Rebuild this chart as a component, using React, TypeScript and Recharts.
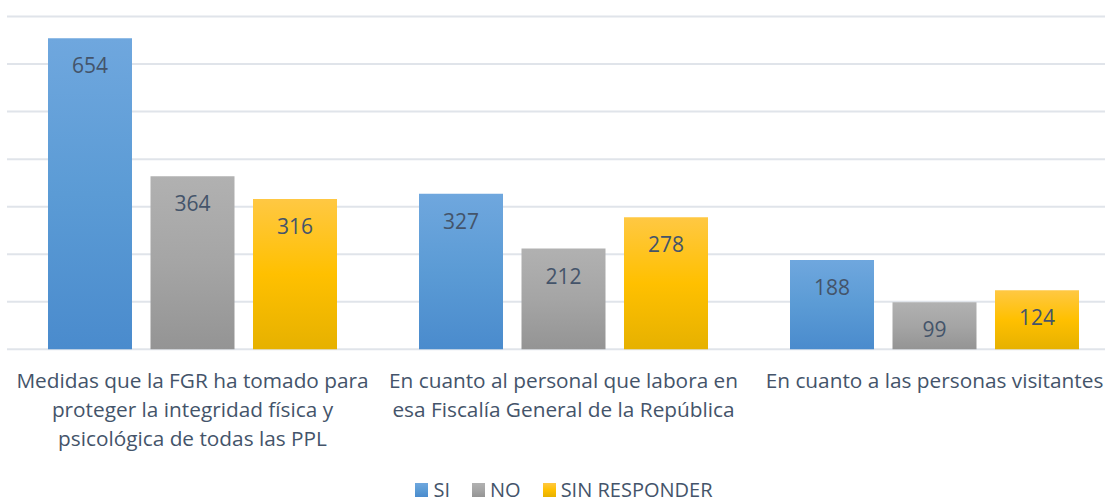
import React from "react";
import { BarChart, Bar, XAxis, YAxis, CartesianGrid, Legend, LabelList } from "recharts";

const categories = [
  "Medidas que la FGR ha tomado para proteger la integridad física y psicológica de todas las PPL",
  "En cuanto al personal que labora en esa Fiscalía General de la República",
  "En cuanto a las personas visitantes",
];
const categoryLines = [
  ["Medidas que la FGR ha tomado para", "proteger la integridad física y", "psicológica de todas las PPL"],
  ["En cuanto al personal que labora en", "esa Fiscalía General de la República"],
  ["En cuanto a las personas visitantes"],
];
const siValues = [654, 327, 188];
const noValues = [364, 212, 99];
const sinResponderValues = [316, 278, 124];
const seriesNames = ["SI", "NO", "SIN RESPONDER"];
const yTicks = [0, 100, 200, 300, 400, 500, 600, 700];

const data = categories.map((c, i) => ({
  name: c,
  idx: i,
  SI: siValues[i],
  NO: noValues[i],
  "SIN RESPONDER": sinResponderValues[i],
}));

const TEXT = "#44546a";
const FONT = "'Open Sans', sans-serif";

const gradients = [
  { id: "gSI", stops: ["#6fa7de", "#5b9bd5", "#4a8bcd"] },
  { id: "gNO", stops: ["#b1b1b1", "#a5a5a5", "#949494"] },
  { id: "gSR", stops: ["#ffc843", "#ffc000", "#e6b100"] },
];

const CategoryTick = (props: any) => {
  const { x, y, payload } = props;
  const lines = categoryLines[payload.index] || [String(payload.value)];
  return (
    <text x={x} y={y} textAnchor="middle" fill={TEXT} fontSize={20.8} fontFamily={FONT}>
      {lines.map((l, i) => (
        <tspan key={i} x={x} y={y + 38.7 + i * 29}>
          {l}
        </tspan>
      ))}
    </text>
  );
};

const renderLabel = (props: any) => {
  const { x, y, width, value } = props;
  return (
    <text
      x={Number(x) + Number(width) / 2}
      y={Number(y) + 27}
      textAnchor="middle"
      dominantBaseline="central"
      fill={TEXT}
      fontSize={21}
      fontFamily={FONT}
    >
      {value}
    </text>
  );
};

const LegendContent = () => (
  <div
    style={{
      display: "flex",
      justifyContent: "center",
      alignItems: "center",
      fontFamily: FONT,
      fontSize: 20,
      color: TEXT,
      gap: 22,
      paddingLeft: 8,
      height: 22,
    }}
  >
    {seriesNames.map((n, i) => (
      <div key={n} style={{ display: "flex", alignItems: "center", gap: 5 }}>
        <div
          style={{
            width: 13,
            height: 14,
            background: `linear-gradient(${gradients[i].stops[0]}, ${gradients[i].stops[1]}, ${gradients[i].stops[2]})`,
          }}
        />
        <span style={{ lineHeight: "22px" }}>{n}</span>
      </div>
    ))}
  </div>
);

export default function App() {
  return (
    <div
      style={{
        position: "fixed",
        left: 0,
        top: 0,
        width: 1105,
        height: 502,
        overflow: "hidden",
        background: "#fff",
      }}
    >
      <BarChart
        width={1120}
        height={502}
        data={data}
        margin={{ top: 16.5, right: 0, left: 7, bottom: 0 }}
        barSize={84}
        barGap={18.5}
        style={{ fontFamily: FONT }}
      >
        <defs>
          {gradients.map((g) => (
            <linearGradient key={g.id} id={g.id} x1="0" y1="0" x2="0" y2="1">
              <stop offset="0%" stopColor={g.stops[0]} />
              <stop offset="50%" stopColor={g.stops[1]} />
              <stop offset="100%" stopColor={g.stops[2]} />
            </linearGradient>
          ))}
        </defs>
        <CartesianGrid vertical={false} stroke="#e0e4ea" strokeWidth={2} />
        <XAxis
          dataKey="name"
          height={152.7}
          axisLine={false}
          tickLine={false}
          tickSize={0}
          tickMargin={0}
          interval={0}
          tick={<CategoryTick />}
        />
        <YAxis hide domain={[0, 700]} ticks={yTicks} />
        <Legend
          layout="horizontal"
          verticalAlign="middle"
          align="center"
          wrapperStyle={{ top: 479, left: 0, width: 1120, height: 22 }}
          content={<LegendContent />}
        />
        <Bar dataKey="SI" fill="url(#gSI)" isAnimationActive={false}>
          <LabelList dataKey="SI" content={renderLabel} />
        </Bar>
        <Bar dataKey="NO" fill="url(#gNO)" isAnimationActive={false}>
          <LabelList dataKey="NO" content={renderLabel} />
        </Bar>
        <Bar dataKey="SIN RESPONDER" fill="url(#gSR)" isAnimationActive={false}>
          <LabelList dataKey="SIN RESPONDER" content={renderLabel} />
        </Bar>
      </BarChart>
    </div>
  );
}
